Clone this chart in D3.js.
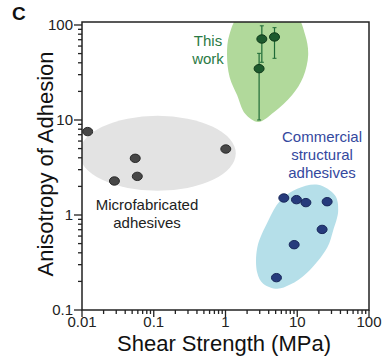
<!DOCTYPE html>
<html><head><meta charset="utf-8">
<script src="https://cdn.jsdelivr.net/npm/d3@7"></script>
<style>html,body{margin:0;padding:0;background:#fff;}svg{display:block;font-family:"Liberation Sans",Arial,sans-serif;}</style>
</head><body>
<svg id="c" width="383" height="359"></svg>
<script>
// ---- data ----
const microX = [0.012, 0.0552, 1.01, 0.0283, 0.059];
const microY = [7.55, 3.95, 4.95, 2.28, 2.55];
const workX = [3.21, 4.82, 2.94];
const workY = [71.2, 74.8, 34.7];
const workLo = [40.5, 44.6, 10.0];
const workHi = [98, 93.7, 50.3];
const commX = [6.5, 9.75, 13.2, 26.1, 22.2, 9.06, 5.13];
const commY = [1.51, 1.45, 1.35, 1.38, 0.705, 0.487, 0.219];
const xTicks = [0.01, 0.1, 1, 10, 100];
const xTickLabels = ["0.01", "0.1", "1", "10", "100"];
const yTicks = [0.1, 1, 10, 100];
const yTickLabels = ["0.1", "1", "10", "100"];
// region outlines (data space)
const greenBlobX = [1.60, 9.35, 12.9, 14.2, 12.1, 8.49, 4.77, 2.85, 1.88, 1.45, 1.14, 1.05, 1.13];
const greenBlobY = [127, 127, 78.5, 48.3, 28.4, 18.3, 12.1, 9.52, 11.6, 18.3, 28.4, 48.3, 78.5];
const blueBlobX = [10.0, 19.5, 33.7, 37.2, 31.6, 26.1, 13.7, 7.96, 5.25, 3.35, 2.77, 2.77, 3.94, 5.78];
const blueBlobY = [1.89, 2.08, 1.60, 1.11, 0.684, 0.453, 0.247, 0.185, 0.167, 0.189, 0.247, 0.453, 0.871, 1.41];
const grayEllipse = {cx: 0.113, cy: 4.46, dx: 1.09, dy: 0.395}; // center, half-extent in decades

const svg = d3.select("#c");
const L = 82, R = 369, T = 22, B = 310;
const x = d3.scaleLog().domain([0.01, 100]).range([L, R]);
const y = d3.scaleLog().domain([0.1, 107.5]).range([B, T]);

svg.append("defs").append("clipPath").attr("id", "pc")
  .append("rect").attr("x", L).attr("y", T).attr("width", R - L).attr("height", B - T);
const g = svg.append("g").attr("clip-path", "url(#pc)");

// gray ellipse
const gcx = x(grayEllipse.cx), gcy = y(grayEllipse.cy);
g.append("ellipse").attr("cx", gcx).attr("cy", gcy)
  .attr("rx", x(grayEllipse.cx * Math.pow(10, grayEllipse.dx)) - gcx)
  .attr("ry", gcy - y(grayEllipse.cy * Math.pow(10, grayEllipse.dy)))
  .attr("fill", "#e3e3e3");

const blob = d3.line().x(d => x(d[0])).y(d => y(d[1])).curve(d3.curveCatmullRomClosed.alpha(0.5));
g.append("path").attr("d", blob(d3.zip(greenBlobX, greenBlobY))).attr("fill", "#b1d99b");
g.append("path").attr("d", blob(d3.zip(blueBlobX, blueBlobY))).attr("fill", "#b5dfe9");

// error bars
const green = "#1e6a37";
workX.forEach((v, i) => {
  const px = x(v);
  g.append("line").attr("x1", px).attr("x2", px).attr("y1", y(workLo[i])).attr("y2", y(workHi[i]))
    .attr("stroke", green).attr("stroke-width", 1.2);
  [workLo[i], workHi[i]].forEach(e => {
    g.append("line").attr("x1", px - 2).attr("x2", px + 2).attr("y1", y(e)).attr("y2", y(e))
      .attr("stroke", green).attr("stroke-width", 1);
  });
});

function pts(xs, ys, fill, stroke) {
  g.selectAll(null).data(d3.zip(xs, ys)).enter().append("ellipse")
    .attr("cx", d => x(d[0])).attr("cy", d => y(d[1])).attr("rx", 5).attr("ry", 4.2)
    .attr("fill", fill).attr("stroke", stroke).attr("stroke-width", 1);
}
pts(microX, microY, "#474747", "#2a2a2a");
pts(workX, workY, "#1d5a2e", "#0f3a1a");
pts(commX, commY, "#263b7c", "#18275a");

// frame
svg.append("rect").attr("x", L).attr("y", T).attr("width", R - L).attr("height", B - T)
  .attr("fill", "none").attr("stroke", "#222").attr("stroke-width", 1.5);

// ticks
const ax = svg.append("g").attr("stroke", "#222").attr("stroke-width", 1.3);
const minor = [];
for (let e = -2; e < 2; e++) for (let k = 2; k <= 9; k++) minor.push(k * Math.pow(10, e));
xTicks.forEach(t => ax.append("line").attr("x1", x(t)).attr("x2", x(t)).attr("y1", B).attr("y2", B + 7));
minor.forEach(t => ax.append("line").attr("x1", x(t)).attr("x2", x(t)).attr("y1", B).attr("y2", B + 4));
const yminor = [];
for (let e = -1; e < 3; e++) for (let k = 2; k <= 9; k++) { const v = k * Math.pow(10, e); if (v <= 107.5) yminor.push(v); }
yTicks.forEach(t => ax.append("line").attr("x1", L).attr("x2", L - 8).attr("y1", y(t)).attr("y2", y(t)));
yminor.forEach(t => ax.append("line").attr("x1", L).attr("x2", L - 4).attr("y1", y(t)).attr("y2", y(t)));

svg.selectAll(null).data(xTicks).enter().append("text")
  .attr("x", d => x(d)).attr("y", 327).attr("text-anchor", "middle")
  .attr("font-size", 15).attr("fill", "#222").text((d, i) => xTickLabels[i]);
svg.selectAll(null).data(yTicks).enter().append("text")
  .attr("x", 73).attr("y", d => y(d) + 5).attr("text-anchor", "end")
  .attr("font-size", 15).attr("fill", "#222").text((d, i) => yTickLabels[i]);

// titles
svg.append("text").attr("x", 224).attr("y", 351).attr("text-anchor", "middle")
  .attr("font-size", 22).attr("fill", "#111").text("Shear Strength (MPa)");
svg.append("text").attr("transform", "translate(53,164) rotate(-90)").attr("text-anchor", "middle")
  .attr("font-size", 22).attr("fill", "#111").text("Anisotropy of Adhesion");
svg.append("text").attr("x", 12).attr("y", 20).attr("font-size", 19).attr("font-weight", "bold")
  .attr("fill", "#111").text("C");

// annotations
function label(lines, cx, y0, dy, color) {
  const t = svg.append("text").attr("text-anchor", "middle").attr("font-size", 15).attr("fill", color);
  lines.forEach((s, i) => t.append("tspan").attr("x", cx).attr("y", y0 + i * dy).text(s));
}
label(["This", "work"], 208, 46, 18, "#2a7a45");
label(["Commercial", "structural", "adhesives"], 322, 142, 18, "#34489e");
label(["Microfabricated", "adhesives"], 147, 210, 18, "#222");
</script>
</body></html>
